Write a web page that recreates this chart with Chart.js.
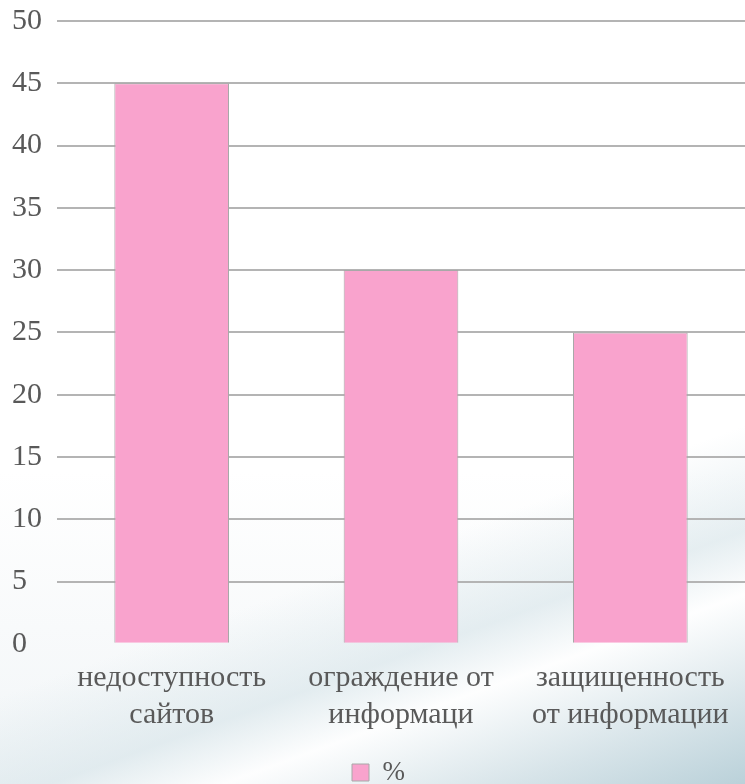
<!DOCTYPE html>
<html lang="ru">
<head>
    <meta charset="UTF-8">
    <style>
        html, body { margin: 0; padding: 0; }
        .box {
            width: 745px;
            height: 784px;
            position: relative;
            background:
                linear-gradient(160deg, rgba(255,255,255,0) 66%, rgba(214,228,233,0.6) 76%, rgba(255,255,255,0.85) 82%, rgba(206,222,228,0.75) 92%, rgba(180,205,214,0.9) 100%),
                linear-gradient(180deg, #ffffff 0%, #ffffff 60%, #f1f5f7 100%);
        }
    </style>
</head>
<body>
    <div class="box">
        <canvas id="chart"></canvas>
    </div>

    <script src="https://cdn.jsdelivr.net/npm/chart.js@4.4.0/dist/chart.umd.min.js"></script>
    <script>
        // data
        const categories = [
            ["недоступность", "сайтов"],
            ["ограждение от", "информаци"],
            ["защищенность", "от информации"]
        ];
        const seriesName = "%";
        const values = [45, 30, 25];
        const yTicks = [0, 5, 10, 15, 20, 25, 30, 35, 40, 45, 50];

        const textColor = "#595959";
        const serif = "'Liberation Serif', serif";
        Chart.defaults.font.family = serif;

        // keep every font on this context serif, whatever string comes in
        const ctx = document.getElementById("chart").getContext("2d");
        const fontProp = Object.getOwnPropertyDescriptor(CanvasRenderingContext2D.prototype, "font");
        Object.defineProperty(ctx, "font", {
            get() { return fontProp.get.call(this); },
            set(v) {
                const m = String(v).match(/^(.*?)(\d+(?:\.\d+)?px)/);
                fontProp.set.call(this, m ? m[1] + m[2] + " " + serif : v);
            }
        });

        const chart = new Chart(ctx, {
            type: "bar",
            data: {
                labels: categories,
                datasets: [{
                    label: seriesName,
                    data: values,
                    backgroundColor: "#f9a3cd",
                    borderColor: "#a8a8a8",
                    borderWidth: 1,
                    categoryPercentage: 1,
                    barPercentage: 0.5
                }]
            },
            options: {
                responsive: true,
                maintainAspectRatio: false,
                animation: false,
                layout: { padding: { left: 12, right: 0, top: 21, bottom: -12 } },
                scales: {
                    x: {
                        grid: { display: false, drawTicks: false, tickLength: 0 },
                        border: { display: false },
                        afterFit: (scale) => { scale.paddingLeft = 0; scale.paddingRight = 0; },
                        ticks: {
                            color: textColor,
                            font: { family: serif, size: 30, lineHeight: 1.22 },
                            padding: 16,
                            maxRotation: 0
                        }
                    },
                    y: {
                        min: 0,
                        max: 50,
                        afterBuildTicks: (axis) => {
                            axis.ticks = yTicks.map(v => ({ value: v }));
                        },
                        afterFit: (scale) => {
                            scale.width = 45;
                            scale.paddingTop = 0;
                            scale.paddingBottom = 0;
                        },
                        border: { display: false },
                        grid: {
                            drawTicks: false,
                            lineWidth: 2,
                            color: (c) => c.tick && c.tick.value === 0 ? "rgba(0,0,0,0)" : "#b4b4b4"
                        },
                        ticks: {
                            color: textColor,
                            font: { family: serif, size: 30 },
                            padding: 14,
                            crossAlign: "far"
                        }
                    }
                },
                plugins: {
                    tooltip: { enabled: false },
                    legend: {
                        position: "bottom",
                        labels: {
                            color: textColor,
                            font: { family: serif, size: 27 },
                            boxWidth: 17,
                            boxHeight: 17
                        }
                    }
                }
            }
        });

        document.fonts.ready.then(() => chart.update());
    </script>
</body>
</html>
